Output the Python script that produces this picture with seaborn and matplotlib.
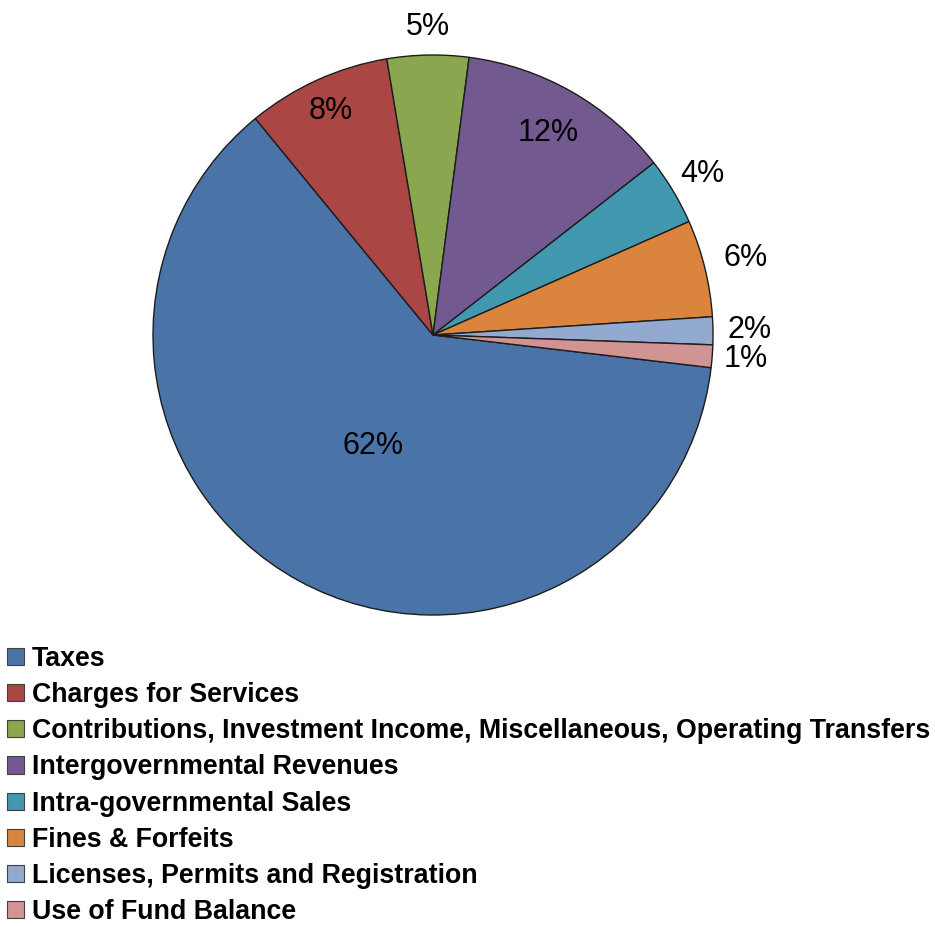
import numpy as np
import matplotlib
matplotlib.use("Agg")
import matplotlib.pyplot as plt
import seaborn as sns
from matplotlib.patches import Patch

sns.set_theme(style="white")
plt.rcParams['font.family'] = ['Liberation Sans', 'DejaVu Sans']
plt.rcParams['text.color'] = 'black'

categories = ["Taxes", "Charges for Services",
              "Contributions, Investment Income, Miscellaneous, Operating Transfers",
              "Intergovernmental Revenues", "Intra-governmental Sales",
              "Fines & Forfeits", "Licenses, Permits and Registration",
              "Use of Fund Balance"]
values = [62.2, 8.3, 4.7, 12.4, 3.9, 5.6, 1.6, 1.3]
colors = ["#4A74A8", "#AA4744", "#8AA64E", "#72598F", "#4298AF",
          "#DB843D", "#93AAD0", "#D19493"]
label_dist = [0.45, 0.88, 1.10, 0.83, 1.12, 1.15, 1.13, 1.12]

W, H = 935, 926
fig = plt.figure(figsize=(W / 100, H / 100), dpi=100)
cx, cy, R = 433, 335, 280
ax = fig.add_axes([(cx - R) / W, (H - cy - R) / H, 2 * R / W, 2 * R / H])

wedges, _ = ax.pie(values, colors=colors, startangle=-6.7, counterclock=False,
                   radius=1.0,
                   wedgeprops=dict(edgecolor="#1c1c1c", linewidth=1.0))
ax.set_xlim(-1, 1)
ax.set_ylim(-1, 1)
ax.set_aspect("equal")
ax.axis("off")

total = sum(values)
for w, v, d in zip(wedges, values, label_dist):
    mid = np.deg2rad((w.theta1 + w.theta2) / 2)
    pct = int(v / total * 100 + 0.5)
    ax.text(d * np.cos(mid), d * np.sin(mid), f"{pct}%", ha="center",
            va="center", fontsize=22, color="black", clip_on=False)

handles = [Patch(facecolor=c, edgecolor="#404040", linewidth=0.8) for c in colors]
leg = fig.legend(handles, categories, loc="upper left", bbox_to_anchor=(0.008, 0.3025),
                 frameon=False, prop=dict(weight="bold", size=19.3),
                 handlelength=0.6, handleheight=0.6, handletextpad=0.3,
                 labelspacing=0.38, borderaxespad=0.0, borderpad=0.0)
for t in leg.get_texts():
    t.set_color("black")

fig.savefig("out.png", dpi=100)
